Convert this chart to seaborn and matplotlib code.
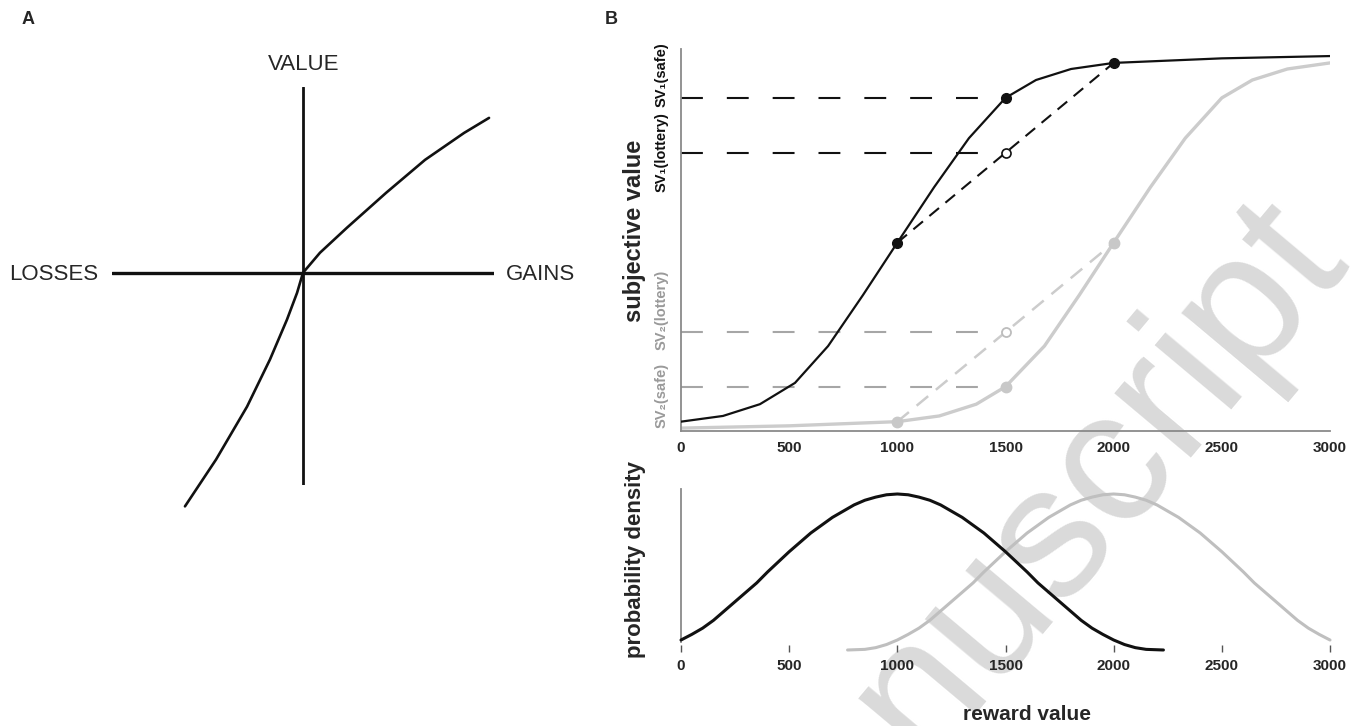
import matplotlib
matplotlib.use("Agg")
import matplotlib.pyplot as plt
import seaborn as sns
import pandas as pd

# ---------------- data ----------------
# Panel A: prospect-theory value function (schematic units)
va_x = [-0.618, -0.455, -0.293, -0.173, -0.084, -0.031, 0.0, 0.089, 0.230, 0.435, 0.639, 0.843, 0.974]
va_y = [-1.225, -0.979, -0.702, -0.455, -0.246, -0.105, 0.0, 0.105, 0.236, 0.419, 0.592, 0.733, 0.812]

# Panel B top: subjective value curves
sv1_x = [0, 194, 365, 527, 680, 841, 1000, 1170, 1331, 1500, 1641, 1803, 2000, 2500, 3000]
sv1_y = [0.022, 0.037, 0.068, 0.124, 0.221, 0.355, 0.493, 0.639, 0.768, 0.874, 0.921, 0.950, 0.966, 0.978, 0.984]
sv2_x = [0, 500, 1000, 1194, 1365, 1500, 1680, 1841, 2000, 2170, 2331, 2500, 2641, 2803, 3000]
sv2_y = [0.005, 0.011, 0.022, 0.037, 0.068, 0.114, 0.221, 0.355, 0.493, 0.639, 0.768, 0.874, 0.921, 0.950, 0.966]

pts1_x = [1000, 1500, 2000]
pts1_y = [0.493, 0.874, 0.966]
pts2_x = [1000, 1500, 2000]
pts2_y = [0.022, 0.114, 0.493]
lott1_x, lott1_y = 1500, 0.730
lott2_x, lott2_y = 1500, 0.258

# Panel B bottom: probability densities
d1_x = [0, 50, 100, 150, 200, 250, 300, 350, 400, 450, 500, 550, 600, 650, 700, 750, 800, 850,
        900, 950, 1000, 1050, 1100, 1150, 1200, 1250, 1300, 1350, 1400, 1450, 1500, 1550, 1600,
        1650, 1700, 1750, 1800, 1850, 1900, 1950, 2000, 2050, 2100, 2150, 2230]
d1_y = [0.064, 0.10, 0.14, 0.19, 0.25, 0.31, 0.37, 0.43, 0.50, 0.565, 0.63, 0.69, 0.75, 0.80,
        0.85, 0.89, 0.93, 0.96, 0.98, 0.995, 1.0, 0.995, 0.98, 0.96, 0.93, 0.89, 0.85, 0.80,
        0.75, 0.69, 0.63, 0.565, 0.50, 0.43, 0.37, 0.31, 0.25, 0.19, 0.14, 0.10, 0.064, 0.035,
        0.015, 0.004, 0.0]
d2_x = [770, 850, 900, 950, 1000, 1050, 1100, 1150, 1200, 1250, 1300, 1350, 1400, 1450, 1500,
        1550, 1600, 1650, 1700, 1750, 1800, 1850, 1900, 1950, 2000, 2050, 2100, 2150, 2200,
        2250, 2300, 2350, 2400, 2450, 2500, 2550, 2600, 2650, 2700, 2750, 2800, 2850, 2900,
        2950, 3000]
d2_y = [0.0, 0.004, 0.015, 0.035, 0.064, 0.10, 0.14, 0.19, 0.25, 0.31, 0.37, 0.43, 0.50, 0.565,
        0.63, 0.69, 0.75, 0.80, 0.85, 0.89, 0.93, 0.96, 0.98, 0.995, 1.0, 0.995, 0.98, 0.96,
        0.93, 0.89, 0.85, 0.80, 0.75, 0.69, 0.63, 0.565, 0.50, 0.43, 0.37, 0.31, 0.25, 0.19,
        0.14, 0.10, 0.064]

xticks = [0, 500, 1000, 1500, 2000, 2500, 3000]
xticklabels = ["0", "500", "1000", "1500", "2000", "2500", "3000"]

# ---------------- style ----------------
sns.set_style("white")
FAM = ["Liberation Sans", "DejaVu Sans"]
plt.rcParams["font.family"] = FAM

W, H = 1361, 726
fig = plt.figure(figsize=(W / 100, H / 100), dpi=100)

BLACK = "#111111"
LGRAY = "#cccccc"
MGRAY = "#a6a6a6"
SPINE = "#8a8a8a"

# watermark (partially visible in the reference)
fig.text(1098 / W, 1 - 478 / H, "nuscript", fontsize=136, color="#dadada",
         rotation=50, ha="center", va="center", zorder=-5, family=FAM)

# ---------------- panel A ----------------
axA = fig.add_axes([112 / W, (H - 485) / H, 382 / W, 398 / H])
axA.set_facecolor("none")
axA.set_xlim(-1, 1)
axA.set_ylim(-1.113, 0.974)
axA.axis("off")
axA.axhline(0, color=BLACK, lw=2.4)
axA.axvline(0, color=BLACK, lw=2.0)
sns.lineplot(x=va_x, y=va_y, ax=axA, color=BLACK, lw=1.9, sort=False, estimator=None,
             clip_on=False)
axA.text(0.005, 1.094, "VALUE", ha="center", va="center", fontsize=16)
axA.text(-1.304, -0.01, "LOSSES", ha="center", va="center", fontsize=16)
axA.text(1.246, -0.01, "GAINS", ha="center", va="center", fontsize=16)

fig.text(28 / W, 1 - 20 / H, "A", fontsize=13, fontweight="bold", ha="center", va="center")
fig.text(611 / W, 1 - 20 / H, "B", fontsize=13, fontweight="bold", ha="center", va="center")

# ---------------- panel B top ----------------
axB = fig.add_axes([681 / W, (H - 431) / H, 649 / W, 382 / H])
axB.set_facecolor("none")
axB.set_xlim(0, 3000)
axB.set_ylim(-0.0026, 1.0026)

for yv, col in [(pts1_y[1], BLACK), (lott1_y, BLACK), (lott2_y, MGRAY), (pts2_y[1], MGRAY)]:
    axB.plot([0, 1500], [yv, yv], color=col, lw=1.5, dashes=(10.5, 11.5), zorder=2)

axB.plot([pts2_x[0], pts2_x[2]], [pts2_y[0], pts2_y[2]], color=LGRAY, lw=1.8,
         dashes=(6, 4), zorder=2)
axB.plot([pts1_x[0], pts1_x[2]], [pts1_y[0], pts1_y[2]], color=BLACK, lw=1.5,
         dashes=(6, 4), zorder=3)

df_top = pd.DataFrame({"x": sv1_x + sv2_x, "y": sv1_y + sv2_y,
                       "s": ["SV1"] * len(sv1_x) + ["SV2"] * len(sv2_x)})
sns.lineplot(data=df_top[df_top.s == "SV2"], x="x", y="y", ax=axB, color=LGRAY, lw=2.4,
             estimator=None, zorder=2)
sns.lineplot(data=df_top[df_top.s == "SV1"], x="x", y="y", ax=axB, color=BLACK, lw=1.6,
             estimator=None, zorder=3)

axB.plot(pts2_x, pts2_y, "o", color="#c8c8c8", ms=7.5, zorder=4)
axB.plot([lott2_x], [lott2_y], "o", mfc="white", mec="#bdbdbd", mew=1.3, ms=6.5, zorder=4)
axB.plot(pts1_x, pts1_y, "o", color=BLACK, ms=7, zorder=5)
axB.plot([lott1_x], [lott1_y], "o", mfc="white", mec=BLACK, mew=1.2, ms=6.5, zorder=5)

for sp in ["top", "right"]:
    axB.spines[sp].set_visible(False)
for sp in ["left", "bottom"]:
    axB.spines[sp].set_color(SPINE)
    axB.spines[sp].set_linewidth(1.3)
axB.set_yticks([])
axB.set_xticks(xticks)
axB.set_xticklabels(xticklabels)
axB.tick_params(axis="x", direction="in", length=5, width=1.1, color="#555555", pad=7,
                labelsize=11)
for t in axB.get_xticklabels():
    t.set_fontweight("bold")
axB.set_xlabel("")
axB.set_ylabel("")

sv_labels = [("SV\u2081(safe)", 75, BLACK), ("SV\u2081(lottery)", 152, BLACK),
             ("SV\u2082(lottery)", 310, "#9a9a9a"), ("SV\u2082(safe)", 395, "#9a9a9a")]
for txt, py, col in sv_labels:
    fig.text(662 / W, 1 - py / H, txt, rotation=90, ha="center", va="center",
             fontsize=10.5, fontweight="bold", color=col, family=FAM)

fig.text(635 / W, 1 - 231 / H, "subjective value", rotation=90, ha="center", va="center",
         fontsize=17, fontweight="bold")

# ---------------- panel B bottom ----------------
axC = fig.add_axes([681 / W, (H - 645) / H, 649 / W, 156 / H])
axC.set_facecolor("none")
axC.set_xlim(0, 3000)
axC.set_ylim(0.032, 1.032)

df_d = pd.DataFrame({"x": d1_x + d2_x, "y": d1_y + d2_y,
                     "s": ["d1"] * len(d1_x) + ["d2"] * len(d2_x)})
sns.lineplot(data=df_d[df_d.s == "d2"], x="x", y="y", ax=axC, color="#bfbfbf", lw=2.2,
             estimator=None, clip_on=False, zorder=2)
sns.lineplot(data=df_d[df_d.s == "d1"], x="x", y="y", ax=axC, color=BLACK, lw=2.2,
             estimator=None, clip_on=False, zorder=3)

for sp in ["top", "right", "bottom"]:
    axC.spines[sp].set_visible(False)
axC.spines["left"].set_color(SPINE)
axC.spines["left"].set_linewidth(1.3)
axC.spines["left"].set_bounds(0.05, 1.032)
axC.set_yticks([])
axC.set_xticks(xticks)
axC.set_xticklabels(xticklabels)
axC.tick_params(axis="x", direction="out", length=5, width=1.0, color="#555555", pad=5,
                labelsize=11, bottom=True)
for t in axC.get_xticklabels():
    t.set_fontweight("bold")
axC.set_xlabel("")
axC.set_ylabel("")

fig.text(635 / W, 1 - 560 / H, "probability density", rotation=90, ha="center", va="center",
         fontsize=16, fontweight="bold")
fig.text(1027 / W, 1 - 715 / H, "reward value", ha="center", va="center",
         fontsize=15, fontweight="bold")

fig.savefig("out.png", dpi=100)
